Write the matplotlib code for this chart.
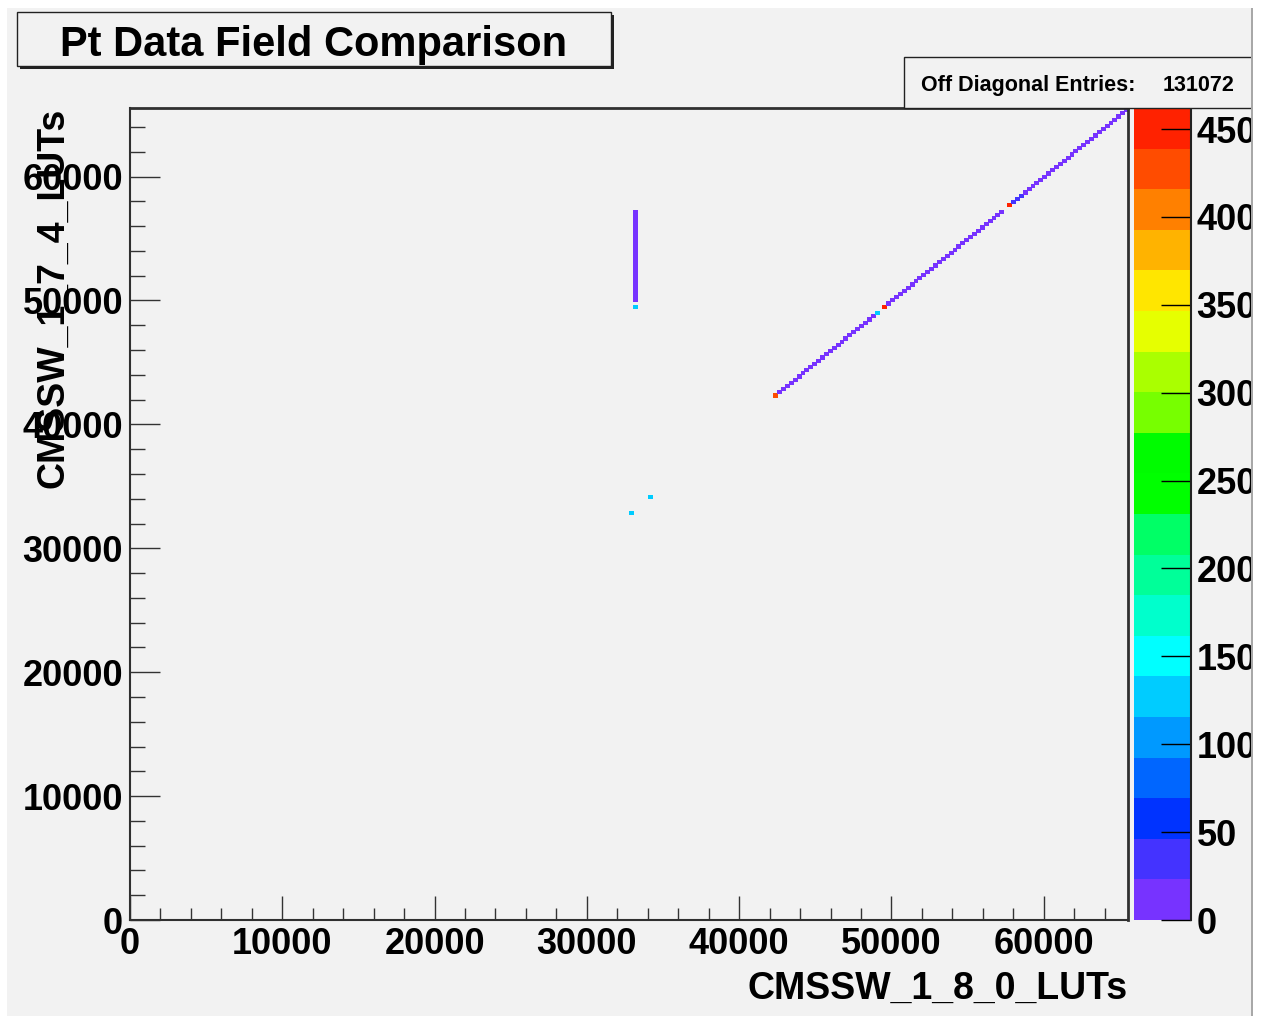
import numpy as np
import matplotlib
matplotlib.use('Agg')
from matplotlib import pyplot as plt
from matplotlib.colors import ListedColormap, BoundaryNorm
from matplotlib.patches import Rectangle
from matplotlib.ticker import MultipleLocator

plt.rcParams['font.family'] = ['Liberation Sans', 'DejaVu Sans']

W, H = 1265, 1016

# binning of the 2D histogram (256 x 256 bins over the LUT range)
n_bins = 256
lut_max = 65536
z_max = 462

# diagonal run: x bin == y bin
diag_first, diag_last = 165, 255
diag_count = 10
diag_missing = [192, 224]
# diagonal bins with a different content
diag_special_bins = [128, 133, 165, 191, 193, 225, 226, 227, 228]
diag_special_counts = [125, 125, 430, 125, 452, 456, 35, 35, 35]

# vertical run at one x bin
vert_x = 129
vert_first, vert_last = 195, 223
vert_count = 10
vert_special_y = [193]
vert_special_counts = [125]

cbar_ticks = [0, 50, 100, 150, 200, 250, 300, 350, 400, 450]

# ROOT style palette, 20 contour levels (bottom -> top)
palette = ['#7733ff', '#4433ff', '#0033ff', '#0066ff', '#0099ff',
           '#00ccff', '#00ffff', '#00ffcc', '#00ff99', '#00ff66',
           '#00ff00', '#00fc00', '#77ff00', '#aaff00', '#e6ff00',
           '#ffe600', '#ffb300', '#ff8000', '#ff4c00', '#ff2200']

title = 'Pt Data Field Comparison'
xlabel = 'CMSSW_1_8_0_LUTs'
ylabel = 'CMSSW_1_7_4_LUTs'
stats_label = 'Off Diagonal Entries:'
stats_value = '131072'

# fill the histogram
Z = np.full((n_bins, n_bins), np.nan)
for b in range(diag_first, diag_last + 1):
    if b not in diag_missing:
        Z[b, b] = diag_count
for b, c in zip(diag_special_bins, diag_special_counts):
    Z[b, b] = c
for b in range(vert_first, vert_last + 1):
    Z[b, vert_x] = vert_count
for b, c in zip(vert_special_y, vert_special_counts):
    Z[b, vert_x] = c
Zm = np.ma.masked_invalid(Z)
edges = np.linspace(0, lut_max, n_bins + 1)

cmap = ListedColormap(palette)
norm = BoundaryNorm(np.linspace(0, z_max, len(palette) + 1), cmap.N)

fig = plt.figure(figsize=(W / 100, H / 100), dpi=100)
fig.patch.set_facecolor('white')


def px_rect(x0, y0, x1, y1, **kw):
    r = Rectangle((x0 / W, 1 - y1 / H), (x1 - x0) / W, (y1 - y0) / H,
                  transform=fig.transFigure, **kw)
    fig.add_artist(r)
    return r


# canvas background
px_rect(7, 8, 1252, 1016, facecolor='#f2f2f2', edgecolor='none', zorder=-10)

ax = fig.add_axes([130 / W, 1 - 920 / H, 998 / W, 812 / H])
ax.set_facecolor('#f2f2f2')
mesh = ax.pcolormesh(edges, edges, Zm, cmap=cmap, norm=norm, shading='flat',
                     edgecolors='face', linewidth=0.7)
ax.set_xlim(0, lut_max)
ax.set_ylim(0, lut_max)

ax.xaxis.set_major_locator(MultipleLocator(10000))
ax.xaxis.set_minor_locator(MultipleLocator(2000))
ax.yaxis.set_major_locator(MultipleLocator(10000))
ax.yaxis.set_minor_locator(MultipleLocator(2000))
ax.tick_params(axis='x', which='major', direction='in', length=17.3, width=1,
               labelsize=26, pad=5, color='#333333')
ax.tick_params(axis='x', which='minor', direction='in', length=8.6, width=1,
               color='#333333')
ax.tick_params(axis='y', which='major', direction='in', length=21.6, width=1,
               labelsize=26, pad=5, color='#333333')
ax.tick_params(axis='y', which='minor', direction='in', length=10.8, width=1,
               color='#333333')
for lab in ax.get_xticklabels() + ax.get_yticklabels():
    lab.set_fontweight('bold')
for s in ax.spines.values():
    s.set_color('#303030')
    s.set_linewidth(1.5)
ax.spines['top'].set_linewidth(2)
ax.spines['right'].set_linewidth(2)

# colour bar
cax = fig.add_axes([1134 / W, 1 - 920 / H, 57 / W, 812 / H])
cb = fig.colorbar(mesh, cax=cax, ticks=cbar_ticks)
cb.outline.set_visible(False)
cax.plot([1, 1], [0, 1], transform=cax.transAxes, color='#222222', lw=1.5,
         clip_on=False)
cax.tick_params(which='major', direction='in', length=21.6, width=1,
                labelsize=26, pad=4, color='black')
cax.minorticks_off()
for lab in cax.get_yticklabels():
    lab.set_fontweight('bold')

# axis titles
fig.text(1128 / W, 1 - 999 / H, xlabel, ha='right', va='baseline',
         fontsize=27, fontweight='bold')
fig.text(63 / W, 1 - 108 / H, ylabel, ha='right', va='baseline',
         rotation=90, rotation_mode='anchor', fontsize=27, fontweight='bold')

# title box with shadow
px_rect(20, 15, 614, 69, facecolor='#222222', edgecolor='none', zorder=5)
px_rect(17, 12, 611, 66, facecolor='#f2f2f2', edgecolor='#222222', lw=1,
        zorder=6)
fig.text(314 / W, 1 - 56 / H, title, ha='center', va='baseline',
         fontsize=30, fontweight='bold', zorder=7)

# stats box
px_rect(904, 57, 1262, 108, facecolor='#f2f2f2', edgecolor='#222222', lw=1,
        zorder=5)
fig.text(921 / W, 1 - 91 / H, stats_label, ha='left', va='baseline',
         fontsize=15.5, fontweight='bold', zorder=7)
fig.text(1235 / W, 1 - 91 / H, stats_value, ha='right', va='baseline',
         fontsize=15.5, fontweight='bold', zorder=7)

# right edge of the canvas
px_rect(1253, 0, 1265, 1016, facecolor='white', edgecolor='none', zorder=20)
px_rect(1251, 8, 1253, 1016, facecolor='#a8a8a8', edgecolor='none', zorder=21)

fig.savefig('out.png', dpi=100, facecolor=fig.get_facecolor())
